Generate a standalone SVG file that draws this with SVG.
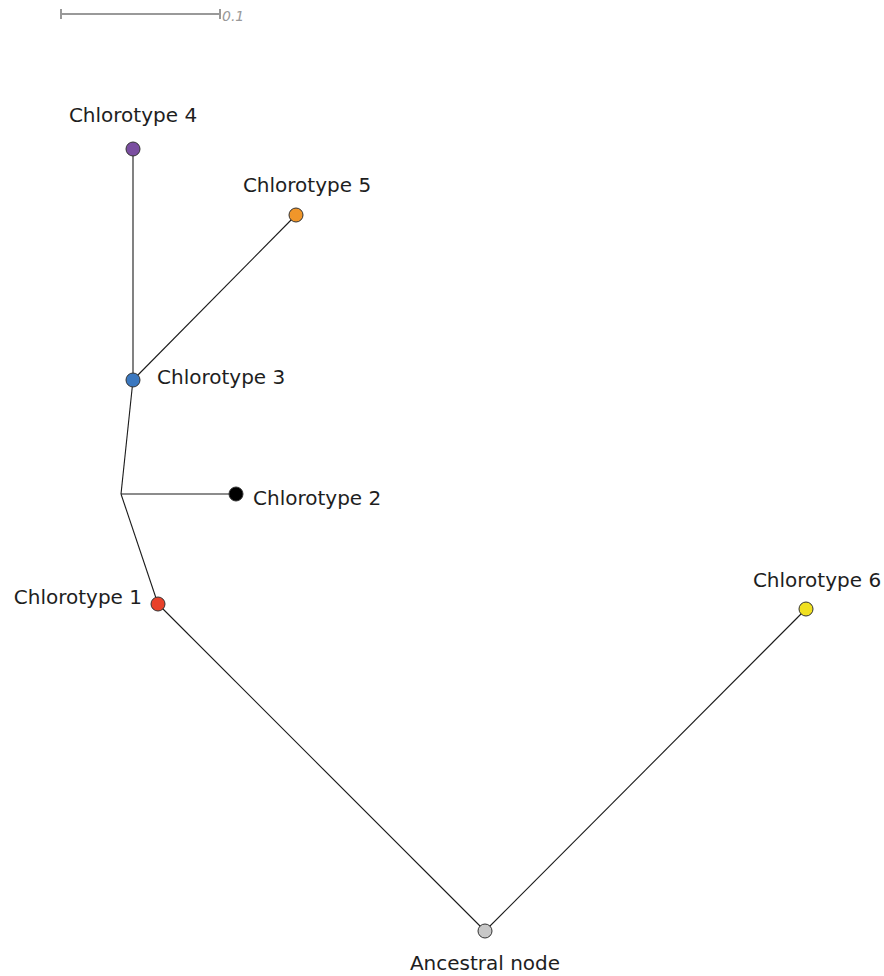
<svg xmlns="http://www.w3.org/2000/svg" width="884" height="976" viewBox="0 0 884 976">
  <style>
    .edge { stroke: #1a1a1a; stroke-width: 1.1; fill: none; }
    .node { stroke: #333; stroke-width: 1; }
    .lbl { font-family: "DejaVu Sans", "Liberation Sans", sans-serif; font-size: 20px; fill: #1e1e1e; }
    .scale { stroke: #999; stroke-width: 2; fill: none; }
    .scaletxt { font-family: "DejaVu Sans", sans-serif; font-size: 14px; font-style: italic; fill: #999; }
  </style>
  <rect width="884" height="976" fill="#fff"/>

  <!-- scale bar -->
  <g id="scale-bar">
    <path class="scale" d="M61 14 H220 M61 9 V19 M220 9 V19"/>
    <text class="scaletxt" x="222" y="21">0.1</text>
  </g>

  <!-- branches -->
  <g id="connectors">
    <line class="edge" x1="133" y1="149" x2="133" y2="380"/>
    <line class="edge" x1="296" y1="215" x2="133" y2="380"/>
    <line class="edge" x1="133" y1="380" x2="121" y2="494"/>
    <line class="edge" x1="121" y1="494" x2="236" y2="494"/>
    <line class="edge" x1="121" y1="494" x2="158" y2="604"/>
    <line class="edge" x1="158" y1="604" x2="485" y2="931"/>
    <line class="edge" x1="485" y1="931" x2="806" y2="609"/>
  </g>

  <g id="chlorotype4">
    <circle class="node" cx="133" cy="149" r="7" fill="#7a4ea0"/>
    <text class="lbl" x="133" y="122" text-anchor="middle">Chlorotype 4</text>
  </g>
  <g id="chlorotype5">
    <circle class="node" cx="296" cy="215" r="7" fill="#f0962a"/>
    <text class="lbl" x="307" y="192" text-anchor="middle">Chlorotype 5</text>
  </g>
  <g id="chlorotype3">
    <circle class="node" cx="133" cy="380" r="7" fill="#3b78c0"/>
    <text class="lbl" x="157" y="384">Chlorotype 3</text>
  </g>
  <g id="chlorotype2">
    <circle class="node" cx="236" cy="494" r="7" fill="#000"/>
    <text class="lbl" x="253" y="505">Chlorotype 2</text>
  </g>
  <g id="chlorotype1">
    <circle class="node" cx="158" cy="604" r="7" fill="#e8412a"/>
    <text class="lbl" x="142" y="604" text-anchor="end">Chlorotype 1</text>
  </g>
  <g id="chlorotype6">
    <circle class="node" cx="806" cy="609" r="7" fill="#f0e020"/>
    <text class="lbl" x="817" y="587" text-anchor="middle">Chlorotype 6</text>
  </g>
  <g id="ancestral-node">
    <circle class="node" cx="485" cy="931" r="7" fill="#c8c8c8"/>
    <text class="lbl" x="485" y="970" text-anchor="middle">Ancestral node</text>
  </g>
</svg>
